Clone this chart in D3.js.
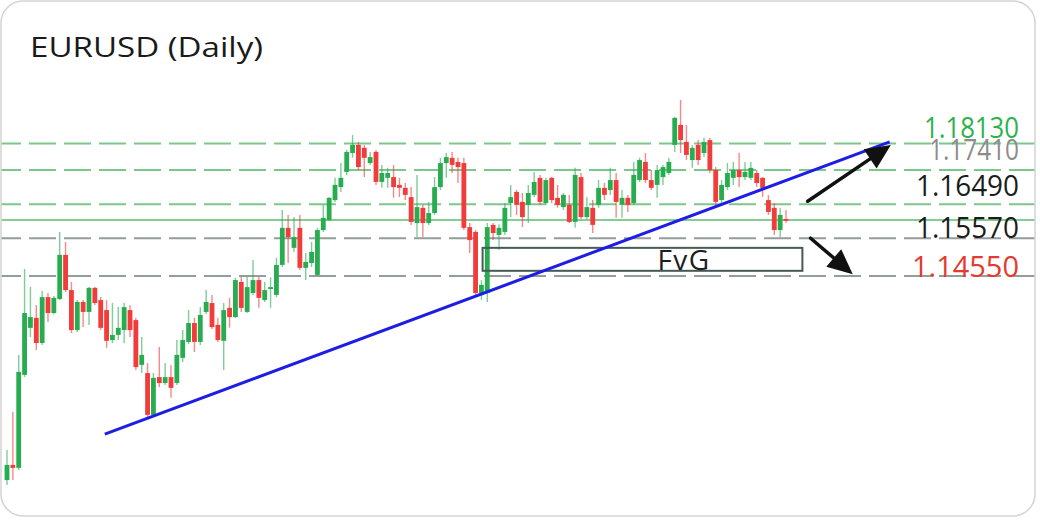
<!DOCTYPE html>
<html>
<head>
<meta charset="utf-8">
<script src="https://cdn.jsdelivr.net/npm/d3@7"></script>
<style>
  html, body { margin: 0; padding: 0; background: #fff; }
  svg { display: block; font-family: "Open Sans", sans-serif; }
</style>
</head>
<body>
<script>
// EURUSD daily candles (oldest first)
const title = 'EURUSD (Daily)';

const opens = [
  1.0904, 1.0945, 1.0937, 1.1188, 1.1315, 1.1342, 1.1274, 1.1398, 1.1355, 1.1393,
  1.1512, 1.1417, 1.1309, 1.1385, 1.1358, 1.1423, 1.1390, 1.1363, 1.1282, 1.1296,
  1.1309, 1.1363, 1.1336, 1.1215, 1.1193, 1.1080, 1.1182, 1.1166, 1.1182, 1.1166,
  1.1234, 1.1277, 1.1328, 1.1277, 1.1358, 1.1382, 1.1323, 1.1280, 1.1369, 1.1344,
  1.1439, 1.1358, 1.1409, 1.1444, 1.1390, 1.1420, 1.1404, 1.1485, 1.1585, 1.1531,
  1.1585, 1.1477, 1.1490, 1.1458, 1.1579, 1.1606, 1.1660, 1.1695, 1.1736, 1.1787,
  1.1809, 1.1801, 1.1760, 1.1790, 1.1709, 1.1720, 1.1722, 1.1701, 1.1693, 1.1668,
  1.1598, 1.1639, 1.1598, 1.1625, 1.1695, 1.1760, 1.1774, 1.1763, 1.1760, 1.1587,
  1.1574, 1.1409, 1.1409, 1.1593, 1.1566, 1.1574, 1.1652, 1.1682, 1.1655, 1.1647,
  1.1674, 1.1720, 1.1652, 1.1720, 1.1666, 1.1641, 1.1647, 1.1601, 1.1722, 1.1614,
  1.1639, 1.1647, 1.1693, 1.1687, 1.1714, 1.1647, 1.1666, 1.1652, 1.1714, 1.1763,
  1.1714, 1.1701, 1.1722, 1.1733, 1.1809, 1.1863, 1.1817, 1.1768, 1.1809, 1.1787,
  1.1822, 1.1741, 1.1660, 1.1695, 1.1720, 1.1741, 1.1722, 1.1720, 1.1733, 1.1720,
  1.1660, 1.1639, 1.1579, 1.1609
];
const highs = [
  1.0985, 1.1088, 1.1242, 1.1474, 1.1425, 1.1377, 1.1415, 1.1409, 1.1401, 1.1574,
  1.1547, 1.1439, 1.1390, 1.1390, 1.1425, 1.1425, 1.1398, 1.1390, 1.1382, 1.1371,
  1.1382, 1.1377, 1.1342, 1.1290, 1.1220, 1.1193, 1.1263, 1.1220, 1.1215, 1.1282,
  1.1309, 1.1363, 1.1342, 1.1371, 1.1417, 1.1404, 1.1342, 1.1382, 1.1396, 1.1450,
  1.1452, 1.1452, 1.1498, 1.1452, 1.1439, 1.1452, 1.1504, 1.1633, 1.1620, 1.1614,
  1.1620, 1.1517, 1.1547, 1.1585, 1.1647, 1.1668, 1.1720, 1.1760, 1.1795, 1.1836,
  1.1817, 1.1809, 1.1790, 1.1795, 1.1755, 1.1747, 1.1755, 1.1720, 1.1706, 1.1695,
  1.1728, 1.1647, 1.1655, 1.1722, 1.1774, 1.1787, 1.1790, 1.1774, 1.1774, 1.1598,
  1.1579, 1.1444, 1.1598, 1.1598, 1.1595, 1.1652, 1.1701, 1.1687, 1.1679, 1.1701,
  1.1736, 1.1728, 1.1720, 1.1722, 1.1701, 1.1679, 1.1674, 1.1747, 1.1733, 1.1668,
  1.1660, 1.1714, 1.1706, 1.1747, 1.1733, 1.1687, 1.1674, 1.1763, 1.1774, 1.1787,
  1.1741, 1.1755, 1.1755, 1.1774, 1.1884, 1.1930, 1.1863, 1.1809, 1.1822, 1.1828,
  1.1828, 1.1749, 1.1714, 1.1760, 1.1763, 1.1787, 1.1763, 1.1763, 1.1741, 1.1722,
  1.1674, 1.1652, 1.1639, 1.1633
];
const lows = [
  1.0891, 1.0904, 1.0931, 1.1182, 1.1290, 1.1255, 1.1269, 1.1331, 1.1352, 1.1390,
  1.1412, 1.1301, 1.1304, 1.1317, 1.1323, 1.1377, 1.1309, 1.1261, 1.1274, 1.1282,
  1.1274, 1.1290, 1.1201, 1.1193, 1.1074, 1.1074, 1.1155, 1.1161, 1.1126, 1.1161,
  1.1223, 1.1271, 1.1250, 1.1269, 1.1352, 1.1312, 1.1277, 1.1201, 1.1315, 1.1342,
  1.1358, 1.1355, 1.1404, 1.1369, 1.1385, 1.1369, 1.1398, 1.1479, 1.1490, 1.1520,
  1.1471, 1.1444, 1.1479, 1.1455, 1.1574, 1.1604, 1.1655, 1.1682, 1.1728, 1.1774,
  1.1741, 1.1722, 1.1755, 1.1701, 1.1693, 1.1693, 1.1666, 1.1668, 1.1660, 1.1593,
  1.1560, 1.1560, 1.1593, 1.1620, 1.1687, 1.1720, 1.1733, 1.1706, 1.1579, 1.1517,
  1.1404, 1.1390, 1.1385, 1.1552, 1.1525, 1.1566, 1.1614, 1.1620, 1.1587, 1.1598,
  1.1668, 1.1647, 1.1647, 1.1652, 1.1639, 1.1633, 1.1598, 1.1585, 1.1609, 1.1609,
  1.1571, 1.1639, 1.1660, 1.1674, 1.1612, 1.1612, 1.1628, 1.1647, 1.1709, 1.1706,
  1.1687, 1.1666, 1.1701, 1.1728, 1.1790, 1.1787, 1.1768, 1.1747, 1.1755, 1.1776,
  1.1733, 1.1647, 1.1652, 1.1687, 1.1701, 1.1695, 1.1714, 1.1714, 1.1695, 1.1668,
  1.1620, 1.1566, 1.1560, 1.1598
];
const closes = [
  1.0945, 1.0937, 1.1196, 1.1355, 1.1344, 1.1274, 1.1398, 1.1355, 1.1396, 1.1512,
  1.1417, 1.1309, 1.1385, 1.1358, 1.1423, 1.1382, 1.1315, 1.1280, 1.1296, 1.1315,
  1.1371, 1.1309, 1.1209, 1.1242, 1.1080, 1.1180, 1.1166, 1.1182, 1.1153, 1.1242,
  1.1282, 1.1328, 1.1277, 1.1350, 1.1385, 1.1317, 1.1282, 1.1363, 1.1344, 1.1444,
  1.1369, 1.1425, 1.1444, 1.1396, 1.1417, 1.1425, 1.1485, 1.1585, 1.1560, 1.1560,
  1.1477, 1.1493, 1.1520, 1.1579, 1.1612, 1.1666, 1.1701, 1.1720, 1.1790, 1.1809,
  1.1749, 1.1774, 1.1776, 1.1709, 1.1733, 1.1733, 1.1695, 1.1693, 1.1674, 1.1601,
  1.1641, 1.1598, 1.1625, 1.1695, 1.1760, 1.1776, 1.1755, 1.1749, 1.1585, 1.1552,
  1.1409, 1.1431, 1.1587, 1.1571, 1.1585, 1.1639, 1.1668, 1.1647, 1.1614, 1.1679,
  1.1709, 1.1655, 1.1714, 1.1660, 1.1647, 1.1674, 1.1601, 1.1728, 1.1614, 1.1641,
  1.1593, 1.1693, 1.1674, 1.1714, 1.1655, 1.1666, 1.1647, 1.1728, 1.1768, 1.1714,
  1.1693, 1.1741, 1.1749, 1.1763, 1.1882, 1.1822, 1.1782, 1.1801, 1.1768, 1.1817,
  1.1741, 1.1655, 1.1701, 1.1733, 1.1741, 1.1722, 1.1736, 1.1747, 1.1706, 1.1693,
  1.1628, 1.1579, 1.1620, 1.1604
];

// price levels on the right
const levels = [1.18130, 1.17410, 1.16490, 1.15570, 1.14550];
const levelLabels = ['1.18130', '1.17410', '1.16490', '1.15570', '1.14550'];
const currentPrice = 1.1606;

// trend line and arrows as [candle index, price]
const trendLine = [[16.7, 1.1028], [150.7, 1.1817]];
const upArrow = [[136.7, 1.1657], [150.9, 1.1809]];
const downArrow = [[137.2, 1.1557], [144.4, 1.1460]];

// fair value gap box
const fvgIndex = [81.2, 135.8];
const fvgPrice = [1.1469, 1.1531];
const fvgText = 'FvG';

const data = opens.map((o, i) => ({ i, o, h: highs[i], l: lows[i], c: closes[i] }));

// --- styles ---
const green = '#27ad50';
const red = '#f23b3b';
const levelStroke = ['#7cc88c', '#7cc88c', '#7cc88c', '#929d9c', '#929d9c'];
const labelFill = ['#2db34c', '#8c8c8c', '#1c1c1c', '#1c1c1c', '#e53a2f'];
const labelDy = [-5, -10, -8, 0, 1];
const labelWidth = [95, 90, 103, 103, 107];

const width = 1040, height = 520;
const svg = d3.select('body').append('svg')
  .attr('width', width)
  .attr('height', height);

const x = d3.scaleLinear().domain([0, data.length - 1]).range([7, 786]);
const y = d3.scaleLinear().domain([1.1455, 1.1813]).range([276, 143.4]);

svg.append('clipPath').attr('id', 'card')
  .append('rect')
  .attr('x', 1).attr('y', 1)
  .attr('width', 1034).attr('height', 515)
  .attr('rx', 22);

const g = svg.append('g').attr('clip-path', 'url(#card)');

// level lines
g.selectAll('line.level')
  .data(levels)
  .join('line')
  .attr('class', 'level')
  .attr('x1', 0).attr('x2', 1036)
  .attr('y1', d => y(d)).attr('y2', d => y(d))
  .attr('stroke', (d, i) => levelStroke[i])
  .attr('stroke-width', 2)
  .attr('stroke-dasharray', '27,8')
  .attr('stroke-dashoffset', 6);

g.append('line')
  .attr('x1', 0).attr('x2', 1036)
  .attr('y1', y(currentPrice)).attr('y2', y(currentPrice))
  .attr('stroke', '#5dbd6e')
  .attr('stroke-width', 1.5);

// candles
const candle = g.selectAll('g.candle')
  .data(data)
  .join('g')
  .attr('class', 'candle');

candle.append('line')
  .attr('x1', d => x(d.i)).attr('x2', d => x(d.i))
  .attr('y1', d => y(d.h)).attr('y2', d => y(d.l))
  .attr('stroke', d => d.c >= d.o ? green : red)
  .attr('stroke-opacity', 0.6)
  .attr('stroke-width', 1.4);

candle.append('rect')
  .attr('x', d => x(d.i) - 2.4)
  .attr('width', 4.8)
  .attr('y', d => y(Math.max(d.o, d.c)))
  .attr('height', d => Math.max(1.5, Math.abs(y(d.o) - y(d.c))))
  .attr('fill', d => d.c >= d.o ? green : red);

// FvG box
g.append('rect')
  .attr('x', x(fvgIndex[0]))
  .attr('y', y(fvgPrice[1]))
  .attr('width', x(fvgIndex[1]) - x(fvgIndex[0]))
  .attr('height', y(fvgPrice[0]) - y(fvgPrice[1]))
  .attr('fill', 'none')
  .attr('stroke', '#465a58')
  .attr('stroke-width', 2);

g.append('text')
  .attr('x', x(fvgIndex[0] + (fvgIndex[1] - fvgIndex[0]) * 0.63))
  .attr('y', y(fvgPrice[0]) - 1)
  .attr('text-anchor', 'middle')
  .attr('font-size', 28)
  .attr('letter-spacing', 1.5)
  .attr('fill', '#1e1e1e')
  .text(fvgText);

// trend line
g.append('line')
  .attr('x1', x(trendLine[0][0])).attr('y1', y(trendLine[0][1]))
  .attr('x2', x(trendLine[1][0])).attr('y2', y(trendLine[1][1]))
  .attr('stroke', '#1d1de6')
  .attr('stroke-width', 3);

// arrows
function drawArrow(pts) {
  const x1 = x(pts[0][0]), y1 = y(pts[0][1]);
  const x2 = x(pts[1][0]), y2 = y(pts[1][1]);
  const a = Math.atan2(y2 - y1, x2 - x1);
  const len = 25, half = 11.5;
  const bx = x2 - len * Math.cos(a), by = y2 - len * Math.sin(a);
  g.append('line')
    .attr('x1', x1).attr('y1', y1)
    .attr('x2', bx + 4 * Math.cos(a)).attr('y2', by + 4 * Math.sin(a))
    .attr('stroke', '#111')
    .attr('stroke-width', 3.5)
    .attr('stroke-linecap', 'round');
  g.append('path')
    .attr('d', `M${x2},${y2}L${bx - half * Math.sin(a)},${by + half * Math.cos(a)}L${bx + half * Math.sin(a)},${by - half * Math.cos(a)}Z`)
    .attr('fill', '#111');
}
drawArrow(upArrow);
drawArrow(downArrow);

// level labels
g.selectAll('text.label')
  .data(levels)
  .join('text')
  .attr('class', 'label')
  .attr('x', 1019)
  .attr('y', (d, i) => y(d) + labelDy[i])
  .attr('text-anchor', 'end')
  .attr('font-size', 30)
  .attr('textLength', (d, i) => labelWidth[i])
  .attr('lengthAdjust', 'spacingAndGlyphs')
  .attr('fill', (d, i) => labelFill[i])
  .text((d, i) => levelLabels[i]);

// title
svg.append('text')
  .attr('x', 30)
  .attr('y', 57)
  .attr('font-size', 27)
  .attr('textLength', 233)
  .attr('lengthAdjust', 'spacingAndGlyphs')
  .attr('fill', '#1a1a1a')
  .text(title);

// card border
svg.append('rect')
  .attr('x', 1).attr('y', 1)
  .attr('width', 1034).attr('height', 515)
  .attr('rx', 22)
  .attr('fill', 'none')
  .attr('stroke', '#d4d4d4')
  .attr('stroke-width', 1.5);
</script>
</body>
</html>
